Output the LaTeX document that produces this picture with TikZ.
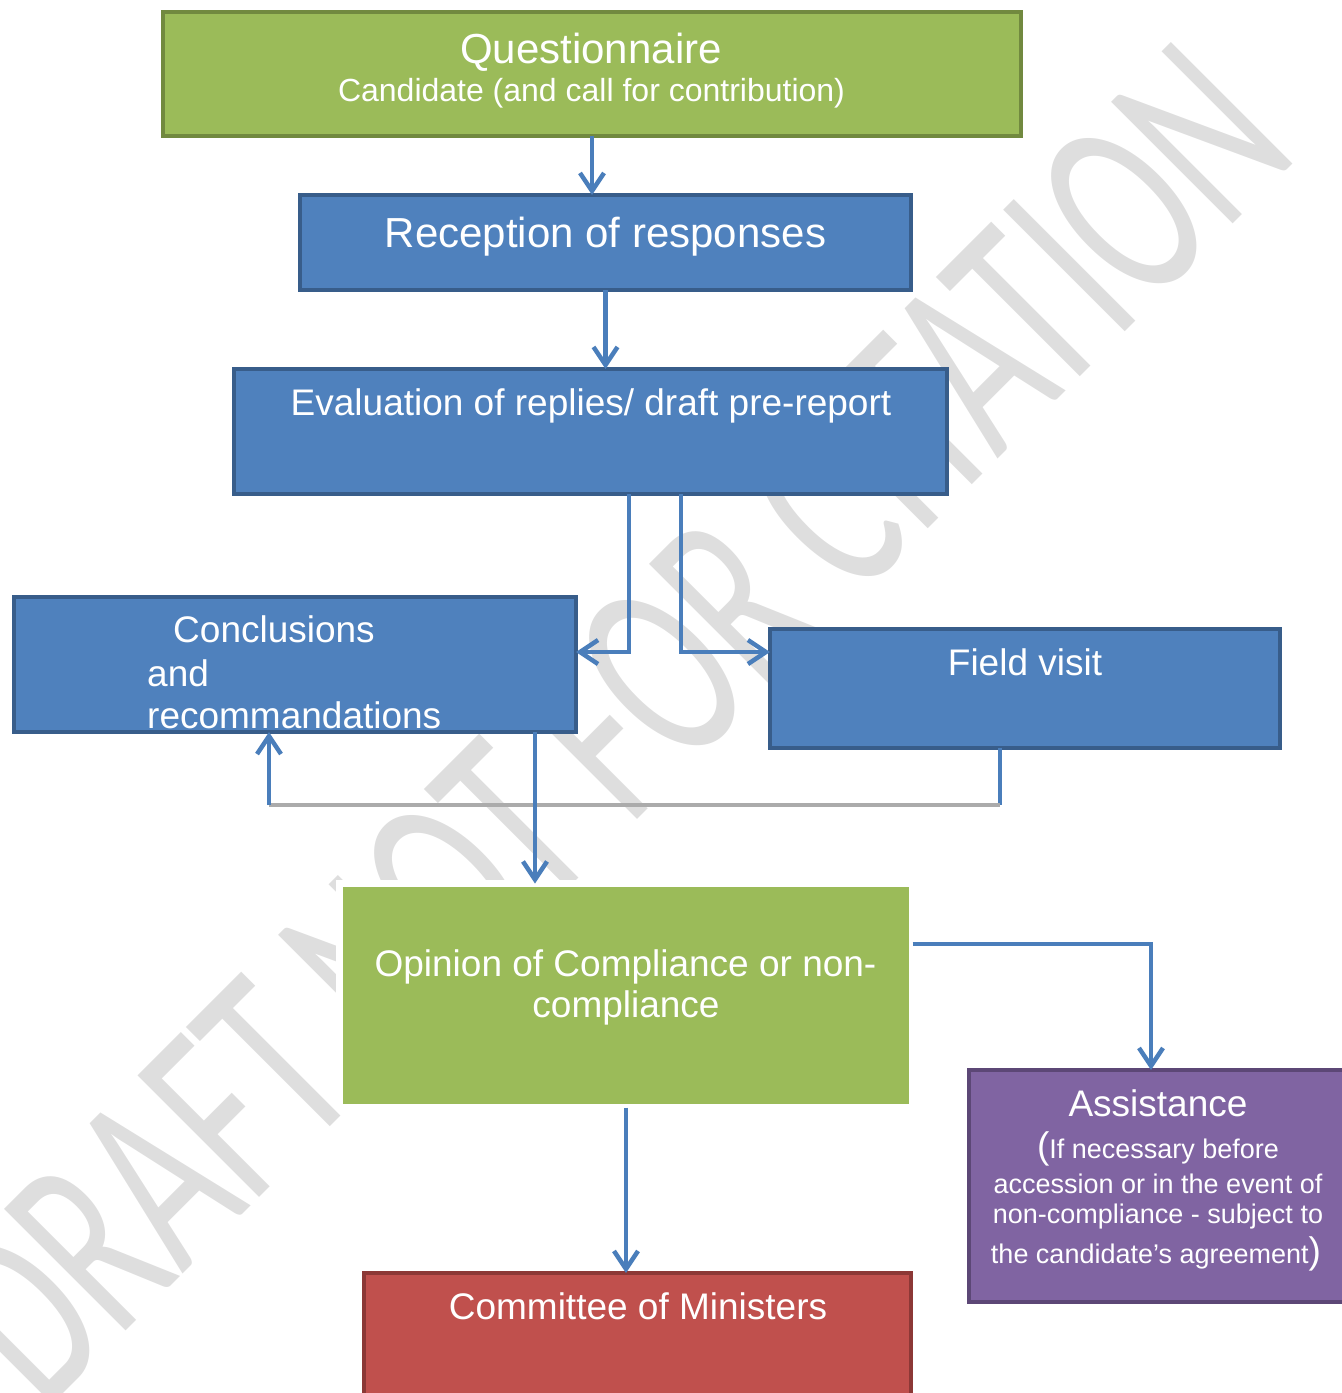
\documentclass[tikz,border=0pt]{standalone}
\usepackage{fontspec}
\setmainfont{Liberation Sans}
\newfontfamily\markfont{Carlito}
\usetikzlibrary{arrows.meta,shadows}
\definecolor{qgreen}{HTML}{9BBB59}
\definecolor{qgreenline}{HTML}{71893F}
\definecolor{qblue}{HTML}{4F81BD}
\definecolor{qblueline}{HTML}{385D8A}
\definecolor{qpurple}{HTML}{8064A2}
\definecolor{qpurpleline}{HTML}{5C4776}
\definecolor{qred}{HTML}{C0504D}
\definecolor{qredline}{HTML}{8C3836}
\definecolor{qlink}{HTML}{4A7EBB}
\definecolor{qback}{HTML}{ABABAB}
\definecolor{qmark}{HTML}{DEDEDE}

\begin{document}
\begin{tikzpicture}[x=1pt, y=-1pt,
  box/.style={rectangle, inner sep=0pt, outer sep=0pt, line width=4pt},
  greenbox/.style={box, fill=qgreen, draw=qgreenline},
  bluebox/.style={box, fill=qblue, draw=qblueline},
  purplebox/.style={box, fill=qpurple, draw=qpurpleline},
  redbox/.style={box, fill=qred, draw=qredline},
  txt/.style={text=white, inner sep=0pt, anchor=base, font=\fontsize{37}{37}\selectfont},
  small/.style={font=\fontsize{27}{27}\selectfont},
  link/.style={draw=qlink, line width=4.5pt},
  backline/.style={draw=qback, line width=4.5pt},
  >={Straight Barb[length=18pt, width=24pt]}]
  \useasboundingbox (0, 0) rectangle (1342, 1393);
  \clip (0, 0) rectangle (1342, 1393);

  \node[text=qmark, inner sep=0pt, anchor=base, rotate=45,
    font=\markfont\fontsize{268}{268}\selectfont] (draftmark) at (673, 784)
    {\scalebox{0.63}[1]{DRAFT NOT FOR CITATION}};

  \node[greenbox, minimum width=858pt, minimum height=124pt] (quest) at (592, 74) {};
  \node[txt, font=\fontsize{42}{42}\selectfont] (questtitle) at (591, 63) {Questionnaire};
  \node[txt, font=\fontsize{32}{32}\selectfont] (questsub) at (591.5, 101) {Candidate (and call for contribution)};

  \node[bluebox, minimum width=611pt, minimum height=95pt] (recep) at (605.5, 242.5) {};
  \node[txt, font=\fontsize{42}{42}\selectfont] (receptext) at (605.5, 247) {Reception of responses};

  \node[bluebox, minimum width=713pt, minimum height=125pt] (eval) at (590.5, 431.5) {};
  \node[txt] (evaltext) at (591, 415) {Evaluation of replies/ draft pre-report};

  \node[bluebox, minimum width=562pt, minimum height=135pt] (concl) at (295, 664.5) {};
  \node[txt] (concltext) at (274, 642) {Conclusions};
  \node[txt, anchor=base west] (conclmid) at (147, 686) {and};
  \node[txt, anchor=base west] (conclend) at (147, 728) {recommandations};

  \node[bluebox, minimum width=510pt, minimum height=119pt] (field) at (1025, 688.5) {};
  \node[txt] (fieldtext) at (1025, 675) {Field visit};

  \node[greenbox, draw=white, line width=7pt, minimum width=573pt, minimum height=224pt,
    drop shadow={shadow xshift=3pt, shadow yshift=-3pt, opacity=0.45}] (opinion) at (626, 995.5) {};
  \node[txt] (opiniontext) at (625.5, 976) {Opinion of Compliance or non-};
  \node[txt] (opinionend) at (626, 1017) {compliance};

  \node[purplebox, minimum width=381pt, minimum height=232pt] (assist) at (1159.5, 1186) {};
  \node[txt] (assisttext) at (1158, 1116) {Assistance};
  \node[txt, small] (assistone) at (1158, 1158) {{\fontsize{37}{37}\selectfont(}If necessary before};
  \node[txt, small] (assisttwo) at (1158, 1193) {accession or in the event of};
  \node[txt, small] (assistthree) at (1158, 1223) {non-compliance - subject to};
  \node[txt, small] (assistfour) at (1156, 1263) {the candidate’s agreement{\fontsize{37}{37}\selectfont)}};

  \node[redbox, minimum width=547pt, minimum height=147pt] (comm) at (637.5, 1346.5) {};
  \node[txt] (commtext) at (638, 1319) {Committee of Ministers};

  \coordinate (splitL) at (629, 652);
  \coordinate (splitR) at (681, 652);
  \coordinate (backR) at (1000, 805);
  \coordinate (backL) at (269, 805);
  \coordinate (concldown) at (535, 800);
  \coordinate (assistin) at (1151, 944);

  \draw[link, ->] (quest.south) -- (quest.south |- recep.north);
  \draw[link, ->] (recep.south) -- (recep.south |- eval.north);
  \draw[link, ->] (eval.south -| splitL) -- (splitL) -- (concl.east |- splitL);
  \draw[link, ->] (eval.south -| splitR) -- (splitR) -- (field.west |- splitR);
  \draw[link] (field.south -| backR) -- (backR);
  \draw[backline] (backR) -- (backL);
  \draw[link, ->] (backL) -- (concl.south -| backL);
  \draw[link, ->] (concl.south -| concldown) -- (opinion.north -| concldown);
  \draw[link, ->] (opinion.east |- assistin) -- (assistin) -- (assist.north -| assistin);
  \draw[link, ->] (opinion.south) -- (opinion.south |- comm.north);
\end{tikzpicture}
\end{document}
